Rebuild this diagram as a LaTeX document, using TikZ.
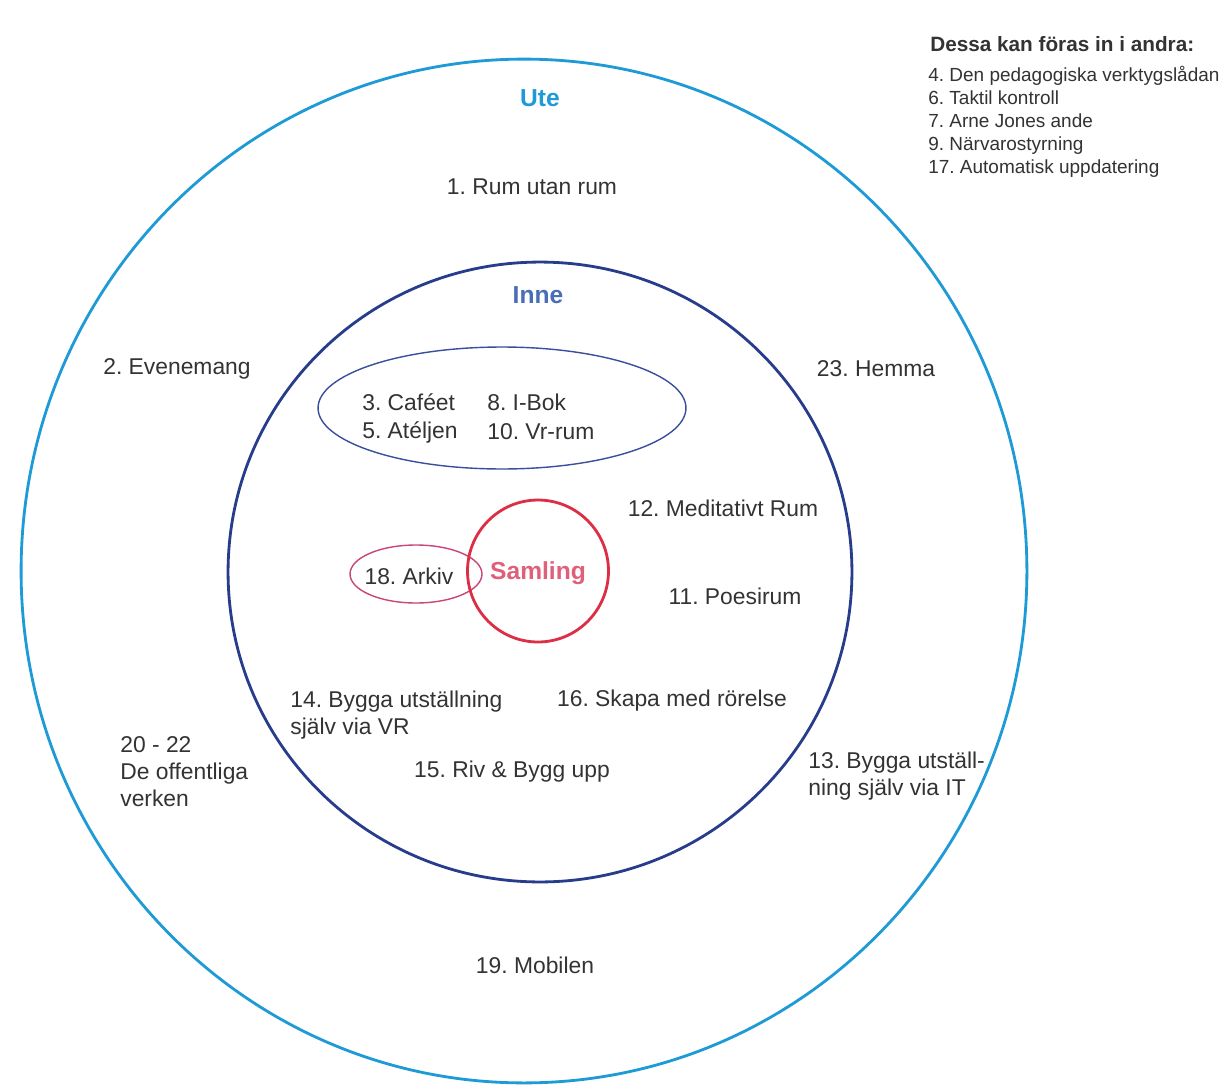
\documentclass[tikz,border=0pt]{standalone}
\usepackage{fontspec}
\setmainfont{Liberation Sans}
\usepackage{tikz}
\usetikzlibrary{calc}
\usetikzlibrary{positioning}
\frenchspacing

\definecolor{utecol}{HTML}{1E9AD6}
\definecolor{innecol}{HTML}{283C8C}
\definecolor{innetext}{HTML}{4A6DB8}
\definecolor{rumcol}{HTML}{3A4E9E}
\definecolor{samlcol}{HTML}{DC2E44}
\definecolor{samltext}{HTML}{E0607A}
\definecolor{arkivcol}{HTML}{C8467A}
\definecolor{txtcol}{HTML}{333333}

\begin{document}
\begin{tikzpicture}[x=0.02cm,y=-0.02cm]
\tikzstyle{lbl}=[text=txtcol,font=\fontsize{13}{15.3}\selectfont\frenchspacing,inner sep=0pt]
\tikzstyle{lbll}=[lbl,anchor=west,align=left]
\tikzstyle{head}=[font=\fontsize{14}{16}\selectfont\bfseries,inner sep=0pt]
\tikzstyle{note}=[text=txtcol,font=\fontsize{10.8}{13.1}\selectfont\frenchspacing,inner sep=0pt,anchor=north west,align=left]
\useasboundingbox (0,0) rectangle (1227,1085);
\fill[white] (0,0) rectangle (1227,1085);
% rings
\draw[utecol,line width=1.6pt] (524,571) ellipse [x radius=10.06cm, y radius=10.24cm];
\draw[innecol,line width=1.6pt] (540,572) ellipse [x radius=6.24cm, y radius=6.2cm];
\draw[rumcol,line width=0.8pt] (502,408) ellipse [x radius=3.68cm, y radius=1.22cm];
\draw[arkivcol,line width=0.8pt] (416,574) ellipse [x radius=1.32cm, y radius=0.58cm];
\draw[samlcol,line width=1.6pt] (538,571) ellipse [x radius=1.41cm, y radius=1.42cm];
% headings
\node[head,text=utecol] at (540,98) (ute) {Ute};
\node[head,text=innetext] at (538,295) (inne) {Inne};
\node[head,text=samltext] at (538,573) (samling) {Samling};
% outside
\node[lbl] at (532,187) (rum) {1. Rum utan rum};
\node[lbl] at (177,369) (evenemang) {2. Evenemang};
\node[lbl] at (876,369) (hemma) {23. Hemma};
\node[lbll] at (120,772) (offentliga) {20 - 22\\De offentliga\\verken};
\node[lbll] at (808,776) (byggait) {13. Bygga utställ-\\ning själv via IT};
\node[lbl] at (535,965) (mobilen) {19. Mobilen};
% inside
\node[lbll] at (362,402) (cafe) {3. Caféet};
\node[lbll] at (487,402) (ibok) {8. I-Bok};
\node[lbll] at (362,432) (atelje) {5. Atéljen};
\node[lbll] at (487,432) (vrrum) {10. Vr-rum};
\node[lbl] at (723,508) (meditativ) {12. Meditativt Rum};
\node[lbl] at (735,596) (poesi) {11. Poesirum};
\node[lbl] at (409,576) (arkiv) {18. Arkiv};
\node[lbll] at (290,715) (byggavr) {14. Bygga utställning\\själv via VR};
\node[lbl] at (672,701) (rorelse) {16. Skapa med rörelse};
\node[lbl] at (512,772) (riv) {15. Riv \& Bygg upp};
% side list
\node[text=txtcol,font=\fontsize{11.8}{14}\selectfont\bfseries,inner sep=0pt,anchor=west] at (930,44) (dessa) {Dessa kan föras in i andra:};
\node[note] at (928,66) (lista) {4. Den pedagogiska verktygslådan\\6. Taktil kontroll\\7. Arne Jones ande\\9. Närvarostyrning\\17. Automatisk uppdatering};
\end{tikzpicture}
\end{document}
